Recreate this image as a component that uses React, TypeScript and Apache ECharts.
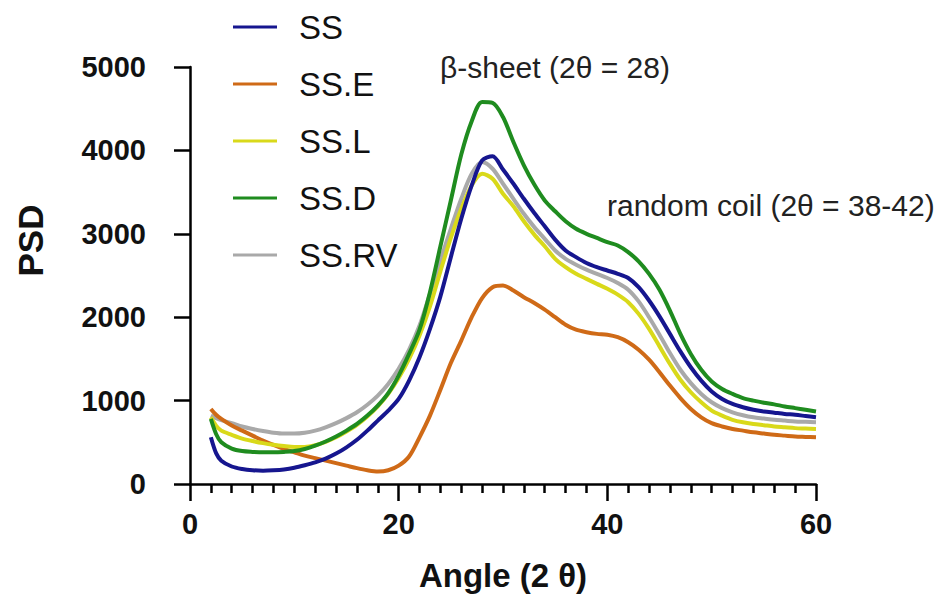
import React, { useEffect, useRef } from "react";
import * as echarts from "echarts";

const FONT = "'Liberation Sans', Arial, Helvetica, sans-serif";

const angles = [2, 2.5, 3, 4, 5, 6, 7, 8, 9, 10, 11, 12, 13, 14, 15, 16, 17, 18, 19, 20,
  21, 22, 23, 24, 25, 26, 27, 28, 29, 30, 31, 32, 33, 34, 35, 36, 37, 38, 39, 40,
  41, 42, 43, 44, 45, 46, 47, 48, 49, 50, 51, 52, 53, 54, 55, 56, 57, 58, 59, 60];

const ss = [560, 370, 280, 210, 180, 165, 160, 165, 175, 195, 225, 260, 305, 365, 440, 530, 640, 760, 880, 1020,
  1240, 1520, 1860, 2250, 2720, 3180, 3580, 3880, 3930, 3770, 3600, 3420, 3250, 3090, 2930, 2800, 2720, 2650, 2600, 2560,
  2520, 2470, 2360, 2200, 2010, 1800, 1590, 1400, 1240, 1110, 1020, 960, 920, 890, 870, 855, 840, 830, 815, 800];

const ssE = [900, 830, 780, 700, 640, 580, 520, 470, 420, 380, 340, 310, 280, 250, 220, 190, 165, 150, 165, 220,
  330, 560, 820, 1130, 1450, 1720, 2000, 2230, 2360, 2380, 2320, 2240, 2170, 2090, 2000, 1910, 1850, 1820, 1800, 1790,
  1760, 1700, 1610, 1490, 1340, 1180, 1030, 900, 800, 730, 690, 660, 640, 620, 605, 590, 580, 570, 565, 560];

const ssL = [800, 700, 640, 590, 545, 515, 490, 470, 455, 445, 445, 465, 505, 560, 630, 710, 810, 930, 1080, 1270,
  1500, 1780, 2130, 2550, 2950, 3300, 3580, 3720, 3660, 3480, 3330, 3150, 2990, 2850, 2700, 2600, 2520, 2460, 2400, 2340,
  2270, 2180, 2040, 1860, 1650, 1440, 1250, 1100, 980, 880, 820, 770, 740, 720, 705, 690, 680, 670, 665, 660];

const ssD = [780, 600, 500, 425, 395, 385, 380, 380, 385, 395, 420, 460, 510, 570, 640, 720, 820, 940, 1090, 1300,
  1560, 1850, 2300, 2850, 3400, 3950, 4350, 4580, 4570, 4400, 4100, 3820, 3590, 3400, 3270, 3150, 3060, 3000, 2950, 2900,
  2860, 2780, 2670, 2520, 2330, 2080, 1800, 1560, 1370, 1230, 1140, 1080, 1030, 1000, 975, 955, 930, 910, 890, 870];

const ssRV = [820, 790, 765, 730, 690, 660, 635, 615, 605, 605, 615, 640, 680, 730, 790, 860, 950, 1060, 1200, 1380,
  1610, 1900, 2280, 2680, 3060, 3420, 3720, 3860, 3780, 3600, 3420, 3240, 3080, 2940, 2800, 2700, 2630, 2570, 2520, 2470,
  2410, 2330, 2190, 2000, 1790, 1570, 1370, 1210, 1080, 980, 910, 860, 825, 800, 785, 770, 760, 750, 745, 740];

const seriesNames = ["SS", "SS.E", "SS.L", "SS.D", "SS.RV"];
const seriesValues = [ss, ssE, ssL, ssD, ssRV];
const seriesColors = ["#16168f", "#cf6a17", "#d9d91a", "#1f8c1f", "#a9a9a9"];
const seriesZ = [4, 2, 3, 5, 1];

const annotations = ["β-sheet (2θ = 28)", "random coil (2θ = 38-42)"];

export default function App() {
  const ref = useRef<HTMLDivElement>(null);
  useEffect(() => {
    document.body.style.margin = "0";
    const chart = echarts.init(ref.current!, null, { renderer: "svg" });
    const axisLineStyle = { color: "#000", width: 2.5 };
    chart.setOption({
      animation: false,
      backgroundColor: "#fff",
      grid: { left: 190, right: 128, top: 67, bottom: 111 },
      legend: {
        orient: "vertical",
        left: 228,
        top: 2,
        icon: "rect",
        itemWidth: 44,
        itemHeight: 3,
        itemGap: 17,
        data: seriesNames,
        textStyle: {
          fontSize: 33,
          fontFamily: FONT,
          color: "#111",
          lineHeight: 40,
          padding: [0, 0, 0, 17],
        },
      },
      xAxis: {
        type: "value",
        min: 0,
        max: 60,
        interval: 20,
        name: "Angle (2 θ)",
        nameLocation: "middle",
        nameGap: 75,
        nameTextStyle: { fontSize: 33, fontWeight: "bold", fontFamily: FONT, color: "#111" },
        axisLine: { show: true, onZero: false, lineStyle: axisLineStyle },
        axisTick: { show: true, length: 17, lineStyle: axisLineStyle },
        minorTick: { show: true, splitNumber: 10, length: 9, lineStyle: axisLineStyle },
        axisLabel: {
          fontSize: 29, fontWeight: "bold", fontFamily: FONT, color: "#111", margin: 25,
          formatter: (v: number) => String(v),
        },
        splitLine: { show: false },
      },
      yAxis: {
        type: "value",
        min: 0,
        max: 5000,
        interval: 1000,
        name: "PSD",
        nameLocation: "middle",
        nameGap: 142,
        nameRotate: 90,
        nameTextStyle: {
          fontSize: 35, fontWeight: "bold", fontFamily: FONT, color: "#111",
          padding: [0, 0, 0, 70],
        },
        axisLine: { show: true, onZero: false, lineStyle: axisLineStyle },
        axisTick: { show: true, length: 16, lineStyle: axisLineStyle },
        axisLabel: {
          fontSize: 29, fontWeight: "bold", fontFamily: FONT, color: "#111", margin: 44,
          formatter: (v: number) => String(v),
        },
        splitLine: { show: false },
      },
      series: seriesNames.map((name, i) => ({
        name,
        type: "line",
        symbol: "none",
        smooth: 0.3,
        z: seriesZ[i],
        color: seriesColors[i],
        lineStyle: { color: seriesColors[i], width: 4 },
        data: angles.map((a, j) => [a, seriesValues[i][j]]),
      })),
      graphic: [
        {
          type: "text",
          left: 440,
          top: 52,
          style: { text: annotations[0], fontSize: 30, fontFamily: FONT, fill: "#222" },
        },
        {
          type: "text",
          left: 607,
          top: 190,
          style: { text: annotations[1], fontSize: 30, fontFamily: FONT, fill: "#222" },
        },
      ],
    });
    return () => chart.dispose();
  }, []);
  return <div ref={ref} style={{ width: 944, height: 597 }} />;
}
